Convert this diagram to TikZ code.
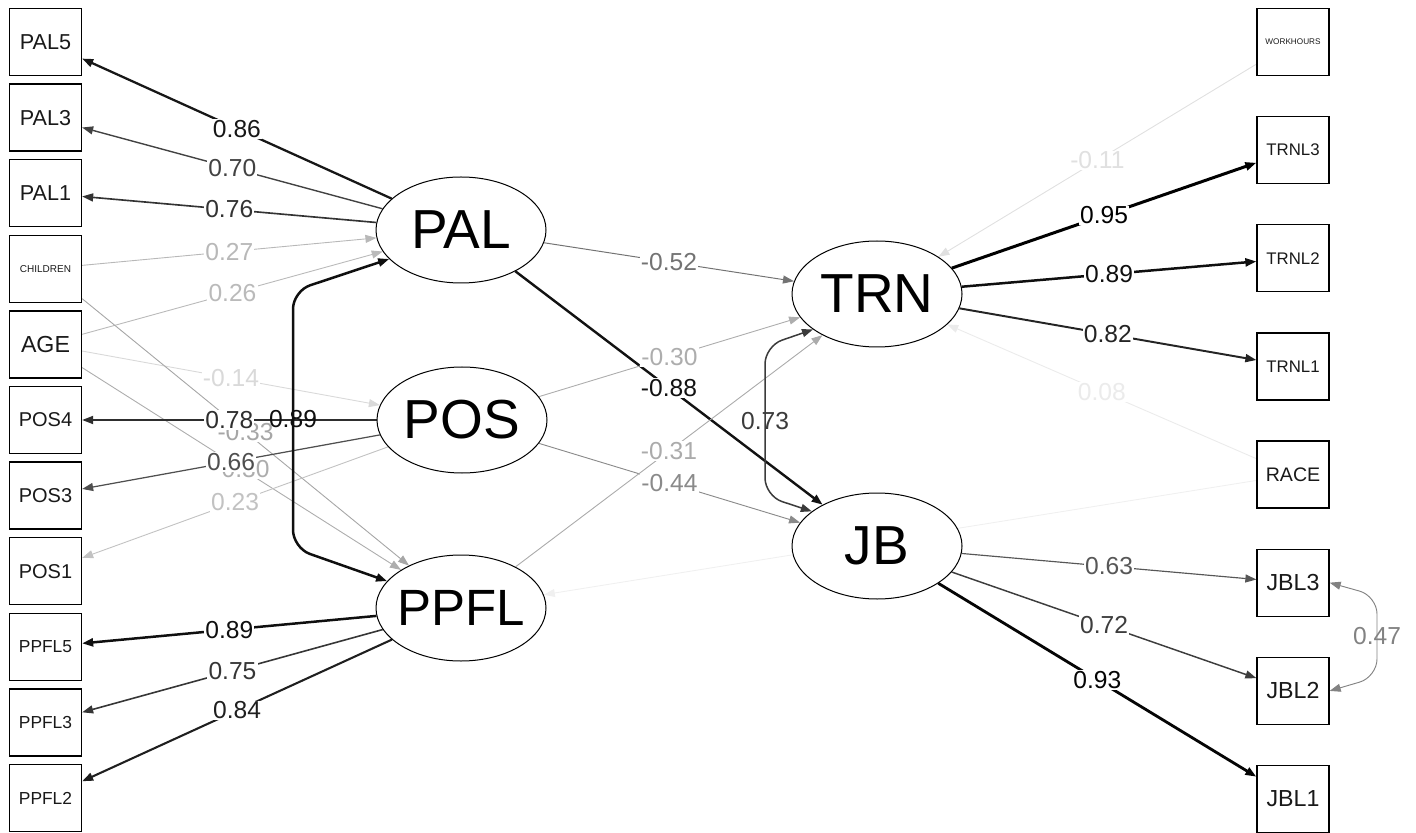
\documentclass[tikz,border=0pt]{standalone}
\usepackage{fontspec}
\setmainfont{Liberation Sans}
\usetikzlibrary{arrows.meta,shapes.geometric,backgrounds}

\newcommand{\fs}[1]{\fontsize{#1}{#1}\selectfont}

\begin{document}
\begin{tikzpicture}[x=0.5pt, y=-0.5pt,
        >={Triangle[length=5.5pt,width=4pt]},
        man/.style={draw, line width=0.65pt, minimum width=36pt, minimum height=33.5pt, inner sep=0pt, text=black!90, font=\fs{#1}},
        lat/.style={draw, ellipse, fill=white, line width=0.5pt, minimum width=85pt, minimum height=53pt, inner xsep=-4pt, inner ysep=0pt, font=\fs{#1}},
        wt/.style={draw=black!#1, text=black!#1, line width={(0.45+1.05*(max(#1-32,0)/68)^3)*1pt}},
        lab/.style={fill=white, inner sep=0.6pt, font=\fs{12.3}},
        clab/.style={inner sep=0.6pt, font=\fs{12.3}},
        cov/.style={<->, rounded corners=9pt}]
        \useasboundingbox (0,0) rectangle (1416,833);

        % indicators and covariates, left column
        \node[man=10.8] (PAL5) at (45.5,42) {PAL5};
        \node[man=10.8] (PAL3) at (45.5,117.6) {PAL3};
        \node[man=10.8] (PAL1) at (45.5,193.2) {PAL1};
        \node[man=5] (CHILDREN) at (45.5,268.8) {CHILDREN};
        \node[man=11.6] (AGE) at (45.5,344.4) {AGE};
        \node[man=10] (POS4) at (45.5,420) {POS4};
        \node[man=10] (POS3) at (45.5,495.6) {POS3};
        \node[man=10] (POS1) at (45.5,571.2) {POS1};
        \node[man=8.7] (PPFL5) at (45.5,646.8) {PPFL5};
        \node[man=8.7] (PPFL3) at (45.5,722.4) {PPFL3};
        \node[man=8.7] (PPFL2) at (45.5,798) {PPFL2};

        % right column
        \node[man=4.1] (WORKHOURS) at (1293,42) {WORKHOURS};
        \node[man=8.4] (TRNL3) at (1293,150.1) {TRNL3};
        \node[man=8.4] (TRNL2) at (1293,258.3) {TRNL2};
        \node[man=8.4] (TRNL1) at (1293,366.4) {TRNL1};
        \node[man=9.8] (RACE) at (1293,474.6) {RACE};
        \node[man=11.6] (JBL3) at (1293,582.7) {JBL3};
        \node[man=11.6] (JBL2) at (1293,690.9) {JBL2};
        \node[man=11.6] (JBL1) at (1293,799) {JBL1};

        % latents
        \node[lat=27.5] (PAL) at (461,230) {PAL};
        \node[lat=27.5] (POS) at (462,420) {POS};
        \node[lat=25.5] (PPFL) at (461,608) {PPFL};
        \node[lat=27.5] (TRN) at (877,294) {TRN};
        \node[lat=27.5] (JB) at (877,546) {JB};

        \begin{scope}[on background layer]
            % covariates
            \draw[wt=28, ->] (CHILDREN) -- node[lab] {0.27} (PAL);
            \draw[wt=27, ->] (AGE) -- node[lab] {0.26} (PAL);
            \draw[wt=15, ->] (AGE) -- node[lab] {-0.14} (POS);
            \draw[wt=35, ->] (CHILDREN) -- node[lab] {-0.33} (PPFL);
            \draw[wt=32, ->] (AGE) -- node[lab] {-0.30} (PPFL);
            \draw[wt=12, ->] (WORKHOURS) -- node[lab] {-0.11} (TRN);
            \draw[wt=8, ->] (RACE) -- node[lab] {0.08} (TRN);
            \draw[wt=6, ->] (RACE) -- (PPFL);
            % loadings
            \draw[wt=91, ->] (PAL) -- node[lab] {0.86} (PAL5);
            \draw[wt=74, ->] (PAL) -- node[lab] {0.70} (PAL3);
            \draw[wt=80, ->] (PAL) -- node[lab] {0.76} (PAL1);
            \draw[wt=82, ->] (POS) -- node[lab] {0.78} (POS4);
            \draw[wt=69, ->] (POS) -- node[lab] {0.66} (POS3);
            \draw[wt=24, ->] (POS) -- node[lab] {0.23} (POS1);
            \draw[wt=94, ->] (PPFL) -- node[lab] {0.89} (PPFL5);
            \draw[wt=79, ->] (PPFL) -- node[lab] {0.75} (PPFL3);
            \draw[wt=88, ->] (PPFL) -- node[lab] {0.84} (PPFL2);
            \draw[wt=100, ->] (TRN) -- node[lab] {0.95} (TRNL3);
            \draw[wt=94, ->] (TRN) -- node[lab] {0.89} (TRNL2);
            \draw[wt=86, ->] (TRN) -- node[lab] {0.82} (TRNL1);
            \draw[wt=66, ->] (JB) -- node[lab] {0.63} (JBL3);
            \draw[wt=76, ->] (JB) -- node[lab] {0.72} (JBL2);
            \draw[wt=98, ->] (JB) -- node[lab] {0.93} (JBL1);
            % structural paths
            \draw[wt=55, ->] (PAL) -- node[lab] {-0.52} (TRN);
            \draw[wt=93, ->] (PAL) -- node[lab] {-0.88} (JB);
            \draw[wt=32, ->] (POS) -- node[lab] {-0.30} (TRN);
            \draw[wt=46, ->] (POS) -- node[lab] {-0.44} (JB);
            \draw[wt=33, ->] (PPFL) -- node[lab] {-0.31} (TRN);
            % covariances
            \draw[wt=94, cov] (PAL.202) -- (293,291) -- node[clab] {0.89} (293,548) -- (PPFL.160);
            \draw[wt=77, cov] (TRN.209) -- (765,346) -- node[clab] {0.73} (765,496) -- (JB.152);
            \draw[wt=49, cov] (JBL3.east) -- (1377,596) -- node[clab] {0.47} (1377,677) -- (JBL2.east);
        \end{scope}
    \end{tikzpicture}
\end{document}
